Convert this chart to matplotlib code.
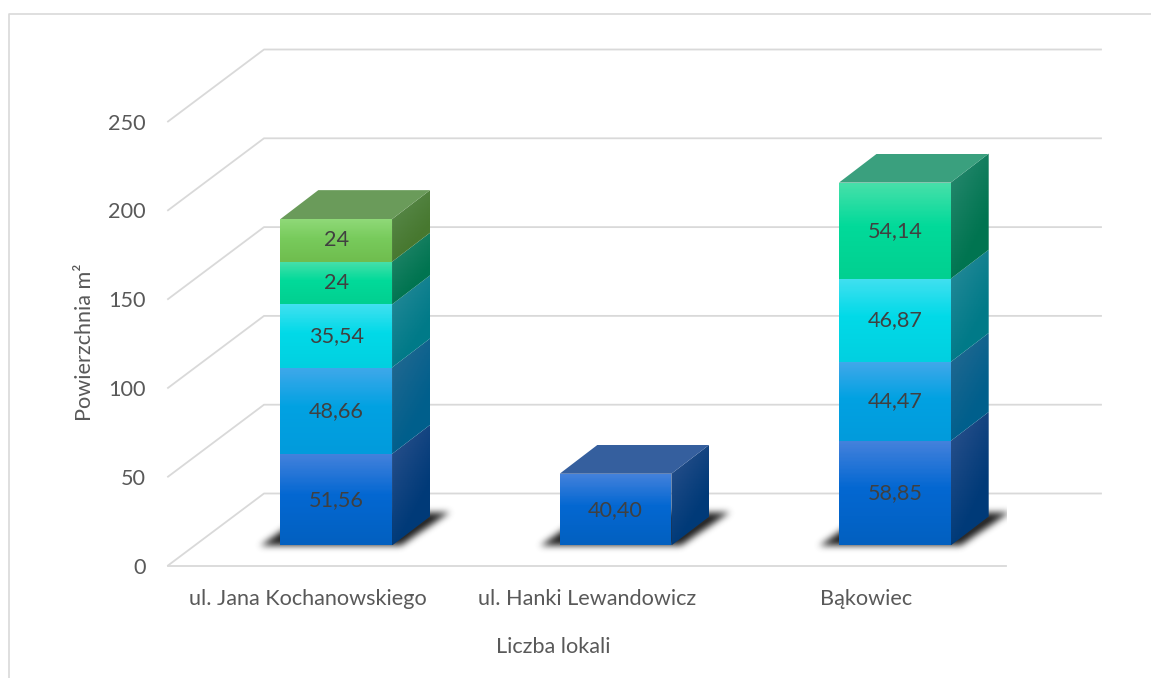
import numpy as np
import matplotlib
matplotlib.use("Agg")
import matplotlib.pyplot as plt
from matplotlib.path import Path
from matplotlib.lines import Line2D
from matplotlib.transforms import IdentityTransform
from matplotlib.colors import to_rgb

categories = ["ul. Jana Kochanowskiego", "ul. Hanki Lewandowicz", "Bąkowiec"]
series_1 = [51.56, 40.40, 58.85]
series_2 = [48.66, 0, 44.47]
series_3 = [35.54, 0, 46.87]
series_4 = [24, 0, 54.14]
series_5 = [24, 0, 0]
y_ticks = [0, 50, 100, 150, 200, 250]
x_title = "Liczba lokali"
y_title = "Powierzchnia m²"

front_colors = [("#4582dc", "#0468d2", "#0260c0"),
                ("#40a8ea", "#02a2e2", "#019bdc"),
                ("#42e0f0", "#02dae8", "#01d0e0"),
                ("#48e0aa", "#02da9a", "#01d090"),
                ("#8fd978", "#78cb5c", "#6fbd4e")]
side_colors = [("#33558f", "#003a78"),
               ("#2d6b92", "#005f8c"),
               ("#2f8d9c", "#007a88"),
               ("#2f8c74", "#007450"),
               ("#5f8f55", "#47782f")]
top_colors = ["#355f9e", "#2d7fae", "#2fa3b0", "#3aa07e", "#6a9b5a"]

plt.rcParams["font.family"] = ["Lato", "DejaVu Sans"]
W, H = 1151, 678
TXT = 15.6
fig = plt.figure(figsize=(W / 100, H / 100), dpi=100, facecolor="white")
ax = fig.add_axes([168 / W, (H - 565.5) / H, 838 / W, 444 / H])
ax.set_xlim(-0.5, 2.5)
ax.set_ylim(0, 250)
ax.patch.set_visible(False)
for s in ax.spines.values():
    s.set_visible(False)

# Projection of the 3-D box, in pixels
FLOOR_DX, FLOOR_DY = 96, 72
BAR_DX, BAR_DY = 28.5, 20
SIDE_DX, SIDE_DY = 38, 29
BAR_W = 0.4
IDT = IdentityTransform()


def px(xv, yv, dx=0.0, dy=0.0):
    p = ax.transData.transform((xv, yv))
    return p[0] + dx, p[1] + dy


def lerp(c0, c1, t):
    a, b = np.array(to_rgb(c0)), np.array(to_rgb(c1))
    return a + (b - a) * t[..., None]


def paint(poly, rgb, z):
    poly = np.array(poly)
    x0, y0 = poly.min(axis=0)
    x1, y1 = poly.max(axis=0)
    im = ax.imshow(rgb, extent=(x0, x1, y0, y1), origin="lower", aspect="auto",
                   transform=IDT, interpolation="nearest", zorder=z)
    im.set_clip_path(Path(np.vstack([poly, poly[0]])), IDT)


def front_grad(c, n=80):
    g = np.zeros((n, 1, 3))
    top, mid, low = (np.array(to_rgb(k)) for k in c)
    for i, tv in enumerate(np.linspace(0, 1, n)):
        if tv > 0.55:
            g[i, 0] = mid + (top - mid) * (tv - 0.55) / 0.45
        else:
            g[i, 0] = low + (mid - low) * tv / 0.55
    return g


def side_grad(c, n=60):
    xx, yy = np.meshgrid(np.linspace(0, 1, n), np.linspace(0, 1, n))
    t = np.clip(0.85 * yy + 0.5 * (1 - xx) - 0.42, 0, 1) ** 1.1
    return lerp(c[1], c[0], t * 1.15 if False else t)


def shadow(x0, x1, base):
    """soft cast shadow on the floor behind a bar"""
    left, bottom = x0 - 40, base - 16
    w, h = int(x1 - x0 + 125), 66
    xx, yy = np.meshgrid(np.arange(w) + left, np.arange(h) + bottom)
    poly = Path([(x0 - 22, base - 2), (x1 + 8, base - 2),
                 (x1 + 58, base + 32), (x0 + 26, base + 32)])
    mask = poly.contains_points(np.c_[xx.ravel(), yy.ravel()]).reshape(h, w).astype(float)
    kern = np.ones(7) / 7
    for _ in range(3):
        mask = np.apply_along_axis(lambda r: np.convolve(r, kern, mode="same"), 1, mask)
        mask = np.apply_along_axis(lambda r: np.convolve(r, kern, mode="same"), 0, mask)
    rgba = np.zeros((h, w, 4))
    rgba[..., :3] = 0.17
    rgba[..., 3] = np.clip(mask * 1.05, 0, 1) ** 1.2
    ax.imshow(rgba, extent=(left, left + w, bottom, bottom + h), origin="lower", aspect="auto",
              transform=IDT, interpolation="bilinear", zorder=1.5)


# Walls and gridlines
GRID = "#d9d9d9"
for v in y_ticks:
    x0, y0 = px(-0.5, v)
    x1, _ = px(2.5, v)
    ax.add_line(Line2D([x0, x0 + FLOOR_DX, x1 + FLOOR_DX - 1], [y0, y0 + FLOOR_DY, y0 + FLOOR_DY],
                       transform=IDT, color=GRID, lw=1.3, clip_on=False, zorder=1))
x0, y0 = px(-0.5, 0)
x1, _ = px(2.5, 0)
ax.add_line(Line2D([x0, x1], [y0, y0], transform=IDT, color=GRID, lw=1.3, clip_on=False, zorder=1))

# Stacked boxes
stacks = [series_1, series_2, series_3, series_4, series_5]
for i in range(len(categories)):
    L, B = px(i - BAR_W / 2, 0, BAR_DX, BAR_DY)
    R, _ = px(i + BAR_W / 2, 0, BAR_DX, BAR_DY)
    shadow(L, R, B)
    bottom_val = 0.0
    last = 0
    for lvl, ser in enumerate(stacks):
        v = ser[i]
        if not v:
            continue
        last = lvl
        _, yb = px(i, bottom_val, BAR_DX, BAR_DY)
        _, yt = px(i, bottom_val + v, BAR_DX, BAR_DY)
        paint([(L, yb), (R, yb), (R, yt), (L, yt)], front_grad(front_colors[lvl]), 3)
        paint([(R, yb), (R + SIDE_DX, yb + SIDE_DY), (R + SIDE_DX, yt + SIDE_DY), (R, yt)],
              side_grad(side_colors[lvl]), 3)
        label = str(int(v)) if v == int(v) else f"{v:.2f}".replace(".", ",")
        cx, cy = px(i, bottom_val + v / 2, BAR_DX, BAR_DY)
        ax.text(cx, cy, label, transform=IDT, ha="center", va="center",
                fontsize=TXT, color="#404040", zorder=6)
        bottom_val += v
    _, yt = px(i, bottom_val, BAR_DX, BAR_DY)
    paint([(L, yt), (R, yt), (R + SIDE_DX, yt + SIDE_DY), (L + SIDE_DX, yt + SIDE_DY)],
          np.tile(np.array(to_rgb(top_colors[last])), (4, 4, 1)), 4)

ax.set_xlim(-0.5, 2.5)
ax.set_ylim(0, 250)

# Axes text
ax.set_yticks(y_ticks)
ax.set_xticks(range(len(categories)))
ax.set_xticklabels(categories)
ax.tick_params(axis="both", length=0, labelsize=TXT, labelcolor="#595959")
ax.tick_params(axis="y", pad=16)
ax.tick_params(axis="x", pad=17)
ax.set_xlabel(x_title, fontsize=TXT, color="#595959")
ax.set_ylabel(y_title, fontsize=TXT, color="#595959")
ax.xaxis.set_label_coords((553 - 168) / 838, -(647 - 565.5) / 444, transform=ax.transAxes)
ax.xaxis.label.set_va("center")
ax.yaxis.set_label_coords((85 - 168) / 838, 0.503, transform=ax.transAxes)
ax.yaxis.label.set_va("center")

# Chart frame, cropped at right and bottom
fig.add_artist(Line2D([8.5 / W, 8.5 / W, 1], [0, (H - 13.5) / H, (H - 13.5) / H],
                      transform=fig.transFigure, color="#d9d9d9", lw=1.2))

fig.savefig("out.png", dpi=100, facecolor="white")
